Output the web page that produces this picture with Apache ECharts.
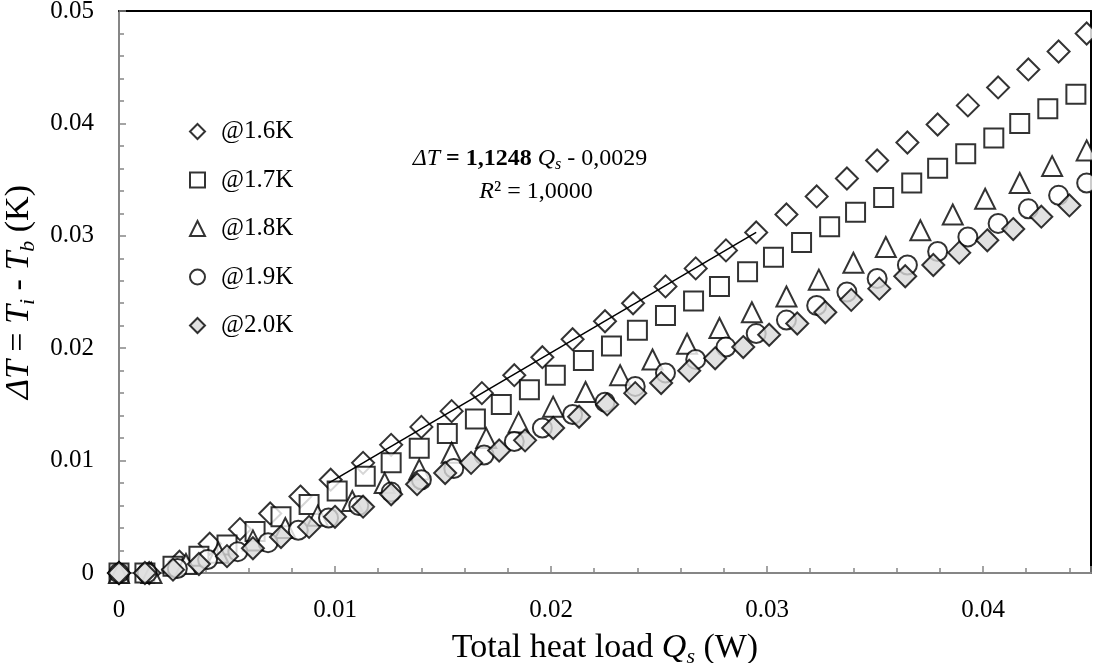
<!DOCTYPE html>
<html>
<head>
<meta charset="utf-8">
<script src="https://cdn.jsdelivr.net/npm/echarts@6/dist/echarts.min.js"></script>
<style>
  html, body { margin: 0; padding: 0; background: #fff; }
  #chart { width: 1094px; height: 663px; }
</style>
</head>
<body>
<div id="chart"></div>
<script>
// heat load Qs (W) and temperature difference dT (K)
const x16 = [0, 0.0014, 0.0028, 0.0042, 0.0056, 0.0070, 0.0084, 0.0098, 0.0113, 0.0126, 0.0140, 0.0154, 0.0168, 0.0183, 0.0196, 0.0210, 0.0225, 0.0238, 0.0253, 0.0267, 0.0281, 0.0295, 0.0309, 0.0323, 0.0337, 0.0351, 0.0365, 0.0379, 0.0393, 0.0407, 0.0421, 0.0435, 0.0448];
const y16 = [0, 0, 0.0010, 0.0026, 0.0039, 0.0053, 0.0068, 0.0083, 0.0098, 0.0114, 0.0130, 0.0144, 0.0160, 0.0176, 0.0192, 0.0208, 0.0224, 0.0240, 0.0255, 0.0271, 0.0287, 0.0303, 0.0319, 0.0335, 0.0351, 0.0367, 0.0383, 0.0399, 0.0416, 0.0432, 0.0448, 0.0464, 0.0480];

const x17 = [0, 0.0012, 0.0025, 0.0037, 0.0050, 0.0063, 0.0075, 0.0088, 0.0101, 0.0114, 0.0126, 0.0139, 0.0152, 0.0165, 0.0177, 0.0190, 0.0202, 0.0215, 0.0228, 0.0240, 0.0253, 0.0266, 0.0278, 0.0291, 0.0303, 0.0316, 0.0329, 0.0341, 0.0354, 0.0367, 0.0379, 0.0392, 0.0405, 0.0417, 0.0430, 0.0443];
const y17 = [0, 0, 0.0006, 0.0015, 0.0025, 0.0037, 0.0050, 0.0061, 0.0073, 0.0086, 0.0098, 0.0111, 0.0124, 0.0137, 0.0150, 0.0163, 0.0176, 0.0189, 0.0202, 0.0216, 0.0229, 0.0242, 0.0255, 0.0268, 0.0281, 0.0294, 0.0308, 0.0321, 0.0334, 0.0347, 0.0360, 0.0373, 0.0387, 0.0400, 0.0413, 0.0426];

const x18 = [0, 0.0015, 0.0031, 0.0046, 0.0062, 0.0077, 0.0092, 0.0108, 0.0123, 0.0139, 0.0154, 0.0170, 0.0185, 0.0201, 0.0216, 0.0232, 0.0247, 0.0263, 0.0278, 0.0293, 0.0309, 0.0324, 0.0340, 0.0355, 0.0371, 0.0386, 0.0401, 0.0417, 0.0432, 0.0448];
const y18 = [0, 0, 0.0008, 0.0018, 0.0029, 0.0040, 0.0051, 0.0064, 0.0080, 0.0092, 0.0107, 0.0120, 0.0134, 0.0148, 0.0161, 0.0176, 0.0190, 0.0204, 0.0218, 0.0232, 0.0246, 0.0261, 0.0276, 0.0290, 0.0305, 0.0319, 0.0333, 0.0347, 0.0362, 0.0376];

const x19 = [0, 0.0013, 0.0027, 0.0041, 0.0055, 0.0069, 0.0083, 0.0097, 0.0111, 0.0126, 0.0140, 0.0155, 0.0169, 0.0183, 0.0196, 0.0210, 0.0225, 0.0239, 0.0253, 0.0267, 0.0281, 0.0295, 0.0309, 0.0323, 0.0337, 0.0351, 0.0365, 0.0379, 0.0393, 0.0407, 0.0421, 0.0435, 0.0448];
const y19 = [0, 0, 0.0004, 0.0012, 0.0019, 0.0027, 0.0038, 0.0049, 0.0060, 0.0072, 0.0083, 0.0093, 0.0105, 0.0117, 0.0129, 0.0141, 0.0152, 0.0166, 0.0178, 0.0190, 0.0201, 0.0213, 0.0225, 0.0238, 0.0250, 0.0262, 0.0274, 0.0286, 0.0299, 0.0311, 0.0324, 0.0336, 0.0347];

const x20 = [0, 0.0012, 0.0025, 0.0037, 0.0050, 0.0062, 0.0075, 0.0088, 0.0100, 0.0113, 0.0126, 0.0138, 0.0151, 0.0163, 0.0176, 0.0188, 0.0201, 0.0213, 0.0226, 0.0239, 0.0251, 0.0264, 0.0276, 0.0289, 0.0301, 0.0314, 0.0327, 0.0339, 0.0352, 0.0364, 0.0377, 0.0389, 0.0402, 0.0414, 0.0427, 0.0440];
const y20 = [0, 0, 0.0003, 0.0008, 0.0015, 0.0022, 0.0032, 0.0041, 0.0050, 0.0059, 0.0070, 0.0079, 0.0089, 0.0098, 0.0109, 0.0118, 0.0129, 0.0139, 0.0150, 0.0160, 0.0169, 0.0180, 0.0191, 0.0201, 0.0212, 0.0222, 0.0232, 0.0243, 0.0253, 0.0264, 0.0274, 0.0285, 0.0296, 0.0306, 0.0317, 0.0327];

// linear fit drawn over the 1.6K points
const fitX = [0.0097, 0.0295];
const fitY = [0.0080, 0.0303];

const seriesNames = ['@1.6K', '@1.7K', '@1.8K', '@1.9K', '@2.0K'];

const FONT = "'Liberation Serif', 'Times New Roman', serif";
const GRAY = '#868686';

const zip = (xs, ys) => xs.map((x, i) => [x, ys[i]]);

const openMark = { color: '#fff', borderColor: '#000', borderWidth: 2 };
const grayMark = { color: '#d9d9d9', borderColor: '#000', borderWidth: 2 };

const chart = echarts.init(document.getElementById('chart'));

const axisBase = {
    type: 'value',
    interval: 0.01,
    splitLine: { show: false },
    axisLine: { lineStyle: { color: GRAY, width: 2 } },
    axisTick: { inside: true, length: 7, lineStyle: { color: GRAY, width: 1.5 } },
    minorTick: { show: true, splitNumber: 5, length: 5, lineStyle: { color: GRAY, width: 1.5 } },
    axisLabel: { color: '#000', fontFamily: FONT, fontSize: 25 }
};

const frameAxis = {
    type: 'value',
    axisLine: { onZero: false, lineStyle: { color: '#000', width: 2 } },
    axisTick: { show: false },
    axisLabel: { show: false },
    splitLine: { show: false }
};

const titleRich = {
    it: { fontFamily: FONT, fontSize: 34, fontStyle: 'italic', color: '#000', lineHeight: 40 },
    sub: { fontFamily: FONT, fontSize: 22, fontStyle: 'italic', color: '#000', lineHeight: 18, verticalAlign: 'bottom' }
};

const eqRich = {
    it: { fontFamily: FONT, fontSize: 24, fontStyle: 'italic', fill: '#000', lineHeight: 28 },
    b: { fontFamily: FONT, fontSize: 24, fontWeight: 'bold', fill: '#000', lineHeight: 28 },
    sub: { fontFamily: FONT, fontSize: 16, fontStyle: 'italic', fill: '#000', lineHeight: 14, verticalAlign: 'bottom' }
};

const option = {
    animation: false,
    backgroundColor: '#fff',
    grid: { left: 119, right: 3, top: 11, bottom: 90, outerBoundsMode: 'none', containLabel: false },
    legend: {
        data: seriesNames,
        orient: 'vertical',
        left: 184,
        top: 114,
        itemWidth: 15,
        itemHeight: 15,
        itemGap: 23.5,
        textStyle: { fontFamily: FONT, fontSize: 25, color: '#000', lineHeight: 25, padding: [0, 0, 0, 11] }
    },
    xAxis: [
        Object.assign({}, axisBase, {
            min: 0,
            max: 0.045,
            position: 'bottom',
            axisLabel: Object.assign({}, axisBase.axisLabel, { margin: 25, showMaxLabel: false }),
            name: 'Total heat load {it|Q}{sub|s} (W)',
            nameLocation: 'middle',
            nameGap: 53,
            nameTextStyle: { fontFamily: FONT, fontSize: 34, color: '#000', lineHeight: 40, rich: titleRich }
        }),
        Object.assign({}, frameAxis, { min: 0, max: 0.045, position: 'top' })
    ],
    yAxis: [
        Object.assign({}, axisBase, {
            min: 0,
            max: 0.05,
            position: 'left',
            axisLabel: Object.assign({}, axisBase.axisLabel, { margin: 25 }),
            name: '{it|ΔT} = {it|T}{sub|i} - {it|T}{sub|b} (K)',
            nameLocation: 'middle',
            nameGap: 72,
            nameTextStyle: { fontFamily: FONT, fontSize: 34, color: '#000', lineHeight: 40, rich: titleRich }
        }),
        Object.assign({}, frameAxis, { min: 0, max: 0.05, position: 'right' })
    ],
    series: [
        { name: '@1.6K', type: 'scatter', symbol: 'diamond', symbolSize: 22, itemStyle: openMark, data: zip(x16, y16) },
        { name: '@1.7K', type: 'scatter', symbol: 'rect', symbolSize: 19, itemStyle: openMark, data: zip(x17, y17) },
        { name: '@1.8K', type: 'scatter', symbol: 'triangle', symbolSize: 20, itemStyle: openMark, data: zip(x18, y18) },
        { name: '@1.9K', type: 'scatter', symbol: 'circle', symbolSize: 19, itemStyle: openMark, data: zip(x19, y19) },
        { name: '@2.0K', type: 'scatter', symbol: 'diamond', symbolSize: 22, itemStyle: grayMark, data: zip(x20, y20) },
        {
            name: 'fit', type: 'line', symbol: 'none', z: 5,
            lineStyle: { color: '#000', width: 1.5 },
            data: zip(fitX, fitY)
        }
    ],
    graphic: [
        {
            type: 'text', x: 530, y: 159, z: 10,
            style: {
                text: '{it|ΔT} {b|= 1,1248} {it|Q}{sub|s} - 0,0029',
                align: 'center', verticalAlign: 'middle',
                fontFamily: FONT, fontSize: 24, fill: '#000', lineHeight: 28,
                rich: eqRich
            }
        },
        {
            type: 'text', x: 536, y: 192, z: 10,
            style: {
                text: '{it|R}² = 1,0000',
                align: 'center', verticalAlign: 'middle',
                fontFamily: FONT, fontSize: 24, fill: '#000', lineHeight: 28,
                rich: eqRich
            }
        },
        // trim the marker overflow past the right frame
        { type: 'rect', shape: { x: 1092, y: 0, width: 2, height: 663 }, style: { fill: '#fff' }, z: 100 }
    ]
};

chart.setOption(option);
</script>
</body>
</html>
